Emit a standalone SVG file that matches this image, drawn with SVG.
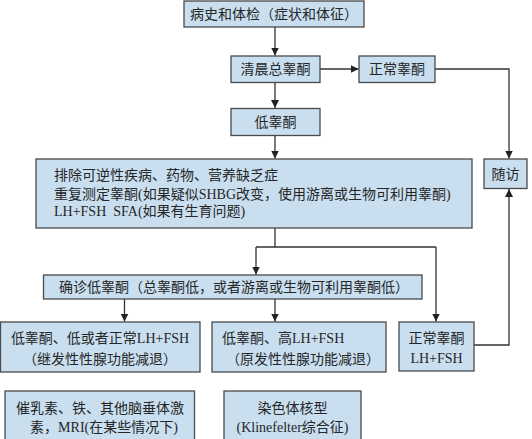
<svg xmlns="http://www.w3.org/2000/svg" width="532" height="439" viewBox="0 0 532 439">
<style>
.box{fill:#c9dff0;stroke:#4a4a4a;stroke-width:1.3}
.t{font-family:"Liberation Serif","Noto Sans CJK SC",serif;font-size:14px;fill:#262626}
.c{text-anchor:middle}
.ln{fill:none;stroke:#333;stroke-width:1.3}
</style>
<defs>
<marker id="ah" viewBox="0 0 10 10" refX="10" refY="5" markerWidth="8" markerHeight="8" markerUnits="userSpaceOnUse" orient="auto">
<path d="M0,0 L10,5 L0,10 z" fill="#222"/>
</marker>
</defs>
<rect width="532" height="439" fill="#ffffff"/>
<g id="connectors">
<path class="ln" d="M275,27 V55.5" marker-end="url(#ah)"/>
<path class="ln" d="M320,69 H358.5" marker-end="url(#ah)"/>
<path class="ln" d="M435,69 H509 V158.5" marker-end="url(#ah)"/>
<path class="ln" d="M275,82.5 V108" marker-end="url(#ah)"/>
<path class="ln" d="M275,135.5 V158.5" marker-end="url(#ah)"/>
<path class="ln" d="M275,228 V247 M256,247 H436"/>
<path class="ln" d="M256,247 V274.5" marker-end="url(#ah)"/>
<path class="ln" d="M436,247 V321.5" marker-end="url(#ah)"/>
<path class="ln" d="M124.5,299 V321.5" marker-end="url(#ah)"/>
<path class="ln" d="M275,299 V321.5" marker-end="url(#ah)"/>
<path class="ln" d="M474,345 H509 V189" marker-end="url(#ah)"/>
</g>
<g id="n1"><rect class="box" x="184" y="1" width="180" height="26"/><text class="t c" x="274" y="19">病史和体检（症状和体征）</text></g>
<g id="n2"><rect class="box" x="231" y="56" width="89" height="26.5"/><text class="t c" x="275.5" y="74">清晨总睾酮</text></g>
<g id="n3"><rect class="box" x="359" y="56" width="76" height="26.5"/><text class="t c" x="397" y="74">正常睾酮</text></g>
<g id="n4"><rect class="box" x="231" y="108.5" width="89" height="27"/><text class="t c" x="275.5" y="127">低睾酮</text></g>
<g id="n5"><rect class="box" x="36" y="159" width="436" height="69"/>
<text class="t" x="54" y="180">排除可逆性疾病、药物、营养缺乏症</text>
<text class="t" x="54" y="198.5">重复测定睾酮(如果疑似SHBG改变，使用游离或生物可利用睾酮)</text>
<text class="t" x="54" y="216" xml:space="preserve" style="white-space:pre">LH+FSH  SFA(如果有生育问题)</text></g>
<g id="n6"><rect class="box" x="484" y="159" width="43" height="29.5"/><text class="t c" x="505.5" y="179">随访</text></g>
<g id="n7"><rect class="box" x="43.5" y="275" width="378.5" height="24"/><text class="t c" x="234" y="292">确诊低睾酮（总睾酮低，或者游离或生物可利用睾酮低）</text></g>
<g id="n8"><rect class="box" x="0.5" y="322" width="199.5" height="50"/><text class="t c" x="100" y="343">低睾酮、低或者正常LH+FSH</text><text class="t c" x="100" y="364">（继发性性腺功能减退）</text></g>
<g id="n9"><rect class="box" x="212" y="322" width="174" height="50"/><text class="t" x="222" y="343">低睾酮、高LH+FSH</text><text class="t" x="226" y="364">（原发性性腺功能减退）</text></g>
<g id="n10"><rect class="box" x="399" y="322" width="75" height="49"/><text class="t c" x="436.5" y="343">正常睾酮</text><text class="t c" x="436.5" y="363">LH+FSH</text></g>
<g id="n11"><rect class="box" x="5" y="391" width="189.5" height="52"/><text class="t c" x="100" y="413">催乳素、铁、其他脑垂体激</text><text class="t c" x="104" y="432">素，MRI(在某些情况下)</text></g>
<g id="n12"><rect class="box" x="224" y="391" width="137" height="52"/><text class="t c" x="292.5" y="413">染色体核型</text><text class="t c" x="292.5" y="432">(Klinefelter综合征)</text></g>
</svg>
